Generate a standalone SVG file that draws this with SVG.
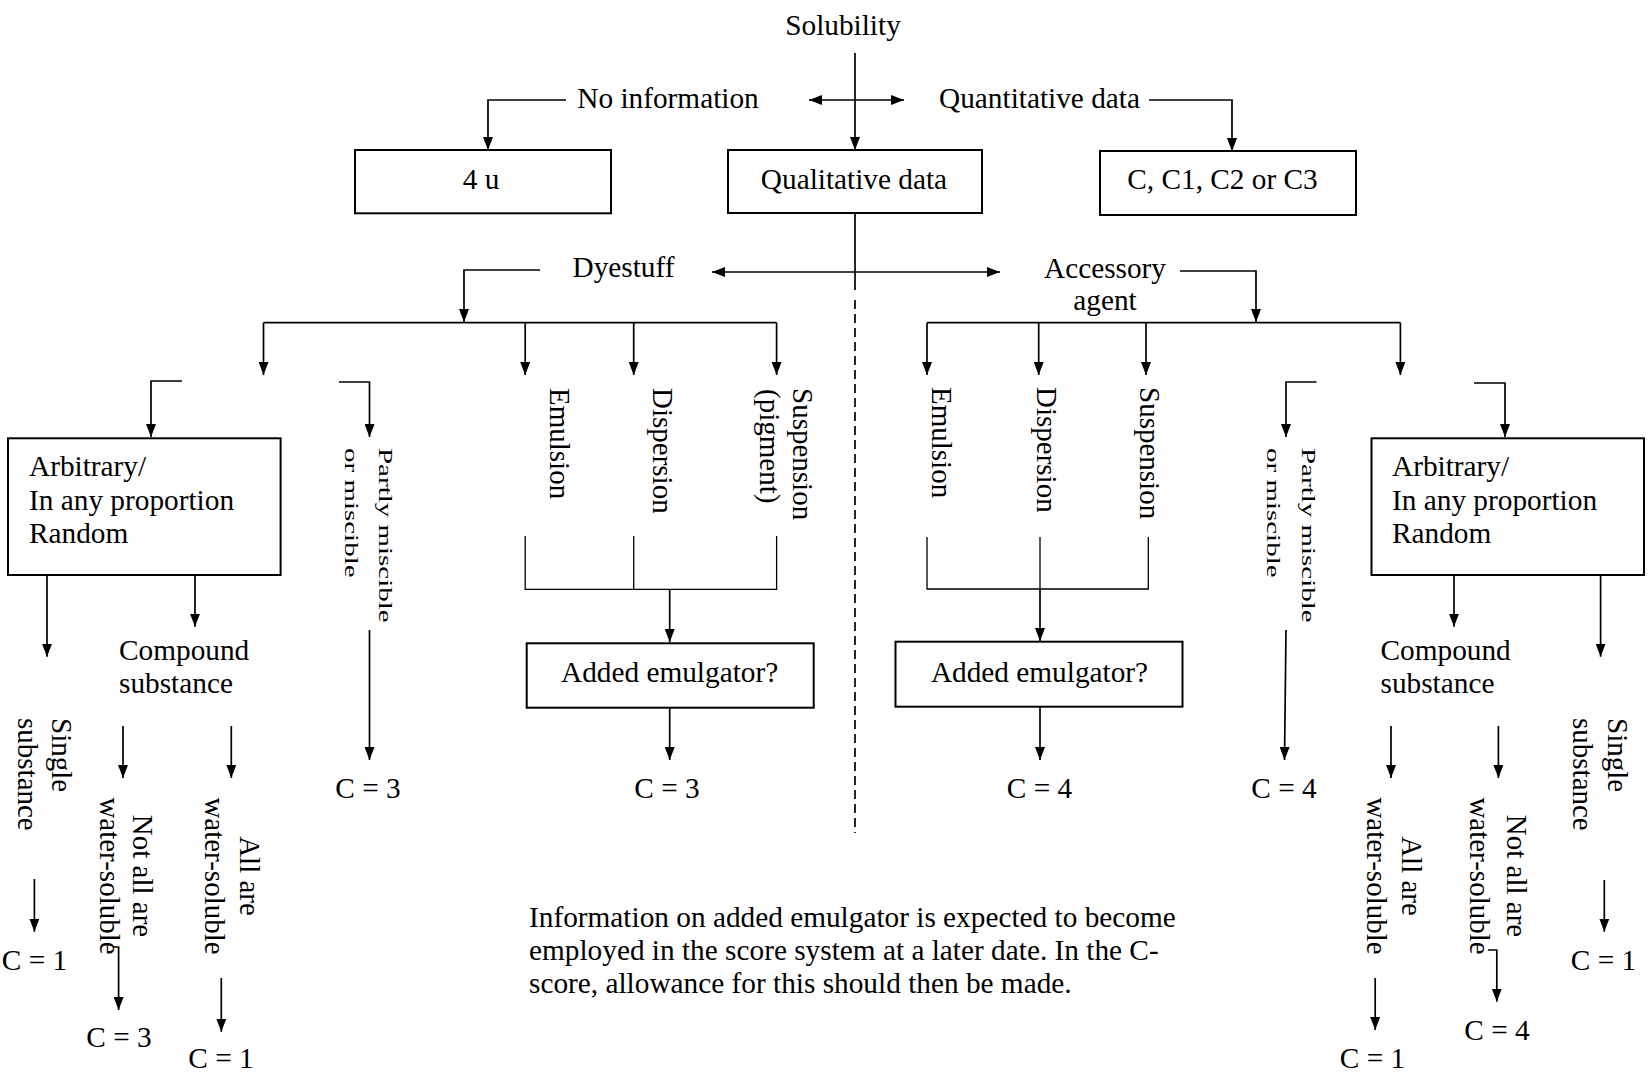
<svg xmlns="http://www.w3.org/2000/svg" width="1652" height="1074" viewBox="0 0 1652 1074">
<style>
text{font-family:"Liberation Serif","Times New Roman",serif;font-size:29.3px;fill:#000}
.m{text-anchor:middle}
.v{font-size:29px}
.box{fill:#fff;stroke:#000;stroke-width:2}
.c{fill:none;stroke:#000;stroke-width:1.7}
.t{fill:none;stroke:#000;stroke-width:1.3}
.a{marker-end:url(#ah)}
.d{marker-start:url(#ah);marker-end:url(#ah)}
</style>
<defs>
<marker id="ah" viewBox="0 0 13 10" preserveAspectRatio="none" refX="13" refY="5" markerWidth="13" markerHeight="10" markerUnits="userSpaceOnUse" orient="auto-start-reverse"><path d="M0,0 L13,5 L0,10 z" fill="#000"/></marker>
</defs>
<rect width="1652" height="1074" fill="#fff"/>

<g id="connectors">
<path class="c a" d="M855,53 V150"/>
<path class="c d" d="M809,100 H904"/>
<path class="c a" d="M566,100 H488 V150"/>
<path class="c a" d="M1149,100 H1232 V151"/>
<path class="c" d="M855,213 V290"/>
<path class="c" d="M855,300 V833" stroke-dasharray="9,5"/>
<path class="c d" d="M712,272 H1000"/>
<path class="c a" d="M540,270 H464 V322"/>
<path class="c" d="M263.5,322.7 H776.6"/>
<path class="c a" d="M263.5,322.7 V375"/>
<path class="c a" d="M525.2,322.7 V375"/>
<path class="c a" d="M633.7,322.7 V375"/>
<path class="c a" d="M776.6,322.7 V375"/>
<path class="c a" d="M1180,271 H1256 V322"/>
<path class="c" d="M927,322.7 H1400.4"/>
<path class="c a" d="M927,322.7 V375"/>
<path class="c a" d="M1038.7,322.7 V375"/>
<path class="c a" d="M1146,322.7 V375"/>
<path class="c a" d="M1400.4,322.7 V375"/>
<path class="c a" d="M182,381 H151 V437"/>
<path class="c a" d="M339,382 H369.5 V437"/>
<path class="c a" d="M1316.5,382 H1286 V437"/>
<path class="c a" d="M1474,383 H1505 V437"/>
<path class="t" d="M525.2,536 V589.3 H776.6 V536 M633.7,536 V589.3"/>
<path class="c a" d="M669.7,589.3 V642"/>
<path class="t" d="M927,537 V589 H1148.3 V537 M1040,537 V589"/>
<path class="c a" d="M1040,589 V641"/>
<path class="c a" d="M669.7,707.7 V760"/>
<path class="c a" d="M1040,707 V760"/>
<path class="c a" d="M369.5,630 V760"/>
<path class="c a" d="M1286,630 L1284.5,760"/>
<path class="c a" d="M47,575 V656.7"/>
<path class="c a" d="M195,575 V626.7"/>
<path class="c a" d="M1454,575 V626.7"/>
<path class="c a" d="M1600.6,575 V656.7"/>
<path class="c a" d="M123,726 V778"/>
<path class="c a" d="M231.3,726 V778"/>
<path class="c a" d="M1391,726 V778"/>
<path class="c a" d="M1498.4,726 V778"/>
<path class="c a" d="M34.4,879 V931.7"/>
<path class="c a" d="M1604.3,880 V931.7"/>
<path class="c a" d="M113,947 H118.6 V1010"/>
<path class="c a" d="M221.3,978 V1031.7"/>
<path class="c a" d="M1488,950 H1496.8 V1001.7"/>
<path class="c a" d="M1375.2,978 V1030"/>
</g>

<g id="solubility"><text class="m" x="843" y="35">Solubility</text></g>
<g id="no-information"><text class="m" x="668" y="108">No information</text></g>
<g id="quantitative-data"><text class="m" x="1039.5" y="108">Quantitative data</text></g>
<g id="box-4u"><rect class="box" x="355" y="150" width="256" height="63.3"/><text class="m" x="481" y="189">4 u</text></g>
<g id="box-qualitative"><rect class="box" x="728" y="150" width="254" height="63"/><text class="m" x="854" y="189">Qualitative data</text></g>
<g id="box-c"><rect class="box" x="1100" y="151" width="256" height="64"/><text class="m" x="1222.5" y="189">C, C1, C2 or C3</text></g>
<g id="dyestuff"><text class="m" x="623.5" y="277">Dyestuff</text></g>
<g id="accessory-agent"><text class="m" x="1105" y="278">Accessory</text><text class="m" x="1105" y="310">agent</text></g>

<g id="left-arbitrary"><rect class="box" x="8" y="438.3" width="272.6" height="136.7"/><text x="29" y="476">Arbitrary/</text><text x="29" y="510">In any proportion</text><text x="29" y="543">Random</text></g>
<g id="left-partly"><text class="v" transform="translate(379,448) rotate(90) scale(1,0.65)">Partly miscible</text><text class="v" transform="translate(345,448) rotate(90) scale(1,0.65)">or miscible</text></g>
<g id="left-emulsion"><text class="v" transform="translate(550,388) rotate(90)">Emulsion</text></g>
<g id="left-dispersion"><text class="v" transform="translate(653,388) rotate(90)">Dispersion</text></g>
<g id="left-suspension"><text class="v" transform="translate(793,388) rotate(90)">Suspension</text><text class="v" transform="translate(760,389) rotate(90)">(pigment)</text></g>
<g id="left-emulgator"><rect class="box" x="526.7" y="643.3" width="287" height="64.4"/><text class="m" x="669.6" y="682">Added emulgator?</text></g>
<g id="left-compound"><text x="119" y="660">Compound</text><text x="119" y="693">substance</text></g>
<g id="left-single"><text class="v" transform="translate(52,718) rotate(90)">Single</text><text class="v" transform="translate(17.5,718) rotate(90)">substance</text></g>
<g id="left-notall"><text class="v m" transform="translate(133,876) rotate(90)">Not all are</text><text class="v m" transform="translate(100,876) rotate(90)">water-soluble</text></g>
<g id="left-all"><text class="v m" transform="translate(240,876) rotate(90)">All are</text><text class="v m" transform="translate(205,876) rotate(90)">water-soluble</text></g>
<g id="left-c3-partly"><text class="m" x="368" y="798">C = 3</text></g>
<g id="left-c3-emulgator"><text class="m" x="667" y="798">C = 3</text></g>
<g id="left-c1-single"><text class="m" x="34.5" y="970">C = 1</text></g>
<g id="left-c3-notall"><text class="m" x="119" y="1046.5">C = 3</text></g>
<g id="left-c1-all"><text class="m" x="221" y="1068">C = 1</text></g>

<g id="right-emulsion"><text class="v" transform="translate(932,387) rotate(90)">Emulsion</text></g>
<g id="right-dispersion"><text class="v" transform="translate(1037,387) rotate(90)">Dispersion</text></g>
<g id="right-suspension"><text class="v" transform="translate(1140,387) rotate(90)">Suspension</text></g>
<g id="right-partly"><text class="v" transform="translate(1302,448) rotate(90) scale(1,0.65)">Partly miscible</text><text class="v" transform="translate(1267,448) rotate(90) scale(1,0.65)">or miscible</text></g>
<g id="right-arbitrary"><rect class="box" x="1371.5" y="438.3" width="272.5" height="136.7"/><text x="1392" y="476">Arbitrary/</text><text x="1392" y="510">In any proportion</text><text x="1392" y="543">Random</text></g>
<g id="right-emulgator"><rect class="box" x="895.5" y="641.7" width="287" height="65"/><text class="m" x="1039.5" y="682">Added emulgator?</text></g>
<g id="right-compound"><text x="1380.5" y="660">Compound</text><text x="1380.5" y="693">substance</text></g>
<g id="right-single"><text class="v" transform="translate(1608,718) rotate(90)">Single</text><text class="v" transform="translate(1573,718) rotate(90)">substance</text></g>
<g id="right-notall"><text class="v m" transform="translate(1507,876) rotate(90)">Not all are</text><text class="v m" transform="translate(1470,876) rotate(90)">water-soluble</text></g>
<g id="right-all"><text class="v m" transform="translate(1402,876) rotate(90)">All are</text><text class="v m" transform="translate(1367,876) rotate(90)">water-soluble</text></g>
<g id="right-c4-emulgator"><text class="m" x="1039.5" y="798">C = 4</text></g>
<g id="right-c4-partly"><text class="m" x="1284" y="798">C = 4</text></g>
<g id="right-c1-all"><text class="m" x="1372.5" y="1068">C = 1</text></g>
<g id="right-c4-notall"><text class="m" x="1497" y="1040">C = 4</text></g>
<g id="right-c1-single"><text class="m" x="1603.5" y="970">C = 1</text></g>

<g id="note"><text x="529" y="927">Information on added emulgator is expected to become</text><text x="529" y="960">employed in the score system at a later date. In the C-</text><text x="529" y="993">score, allowance for this should then be made.</text></g>
</svg>
